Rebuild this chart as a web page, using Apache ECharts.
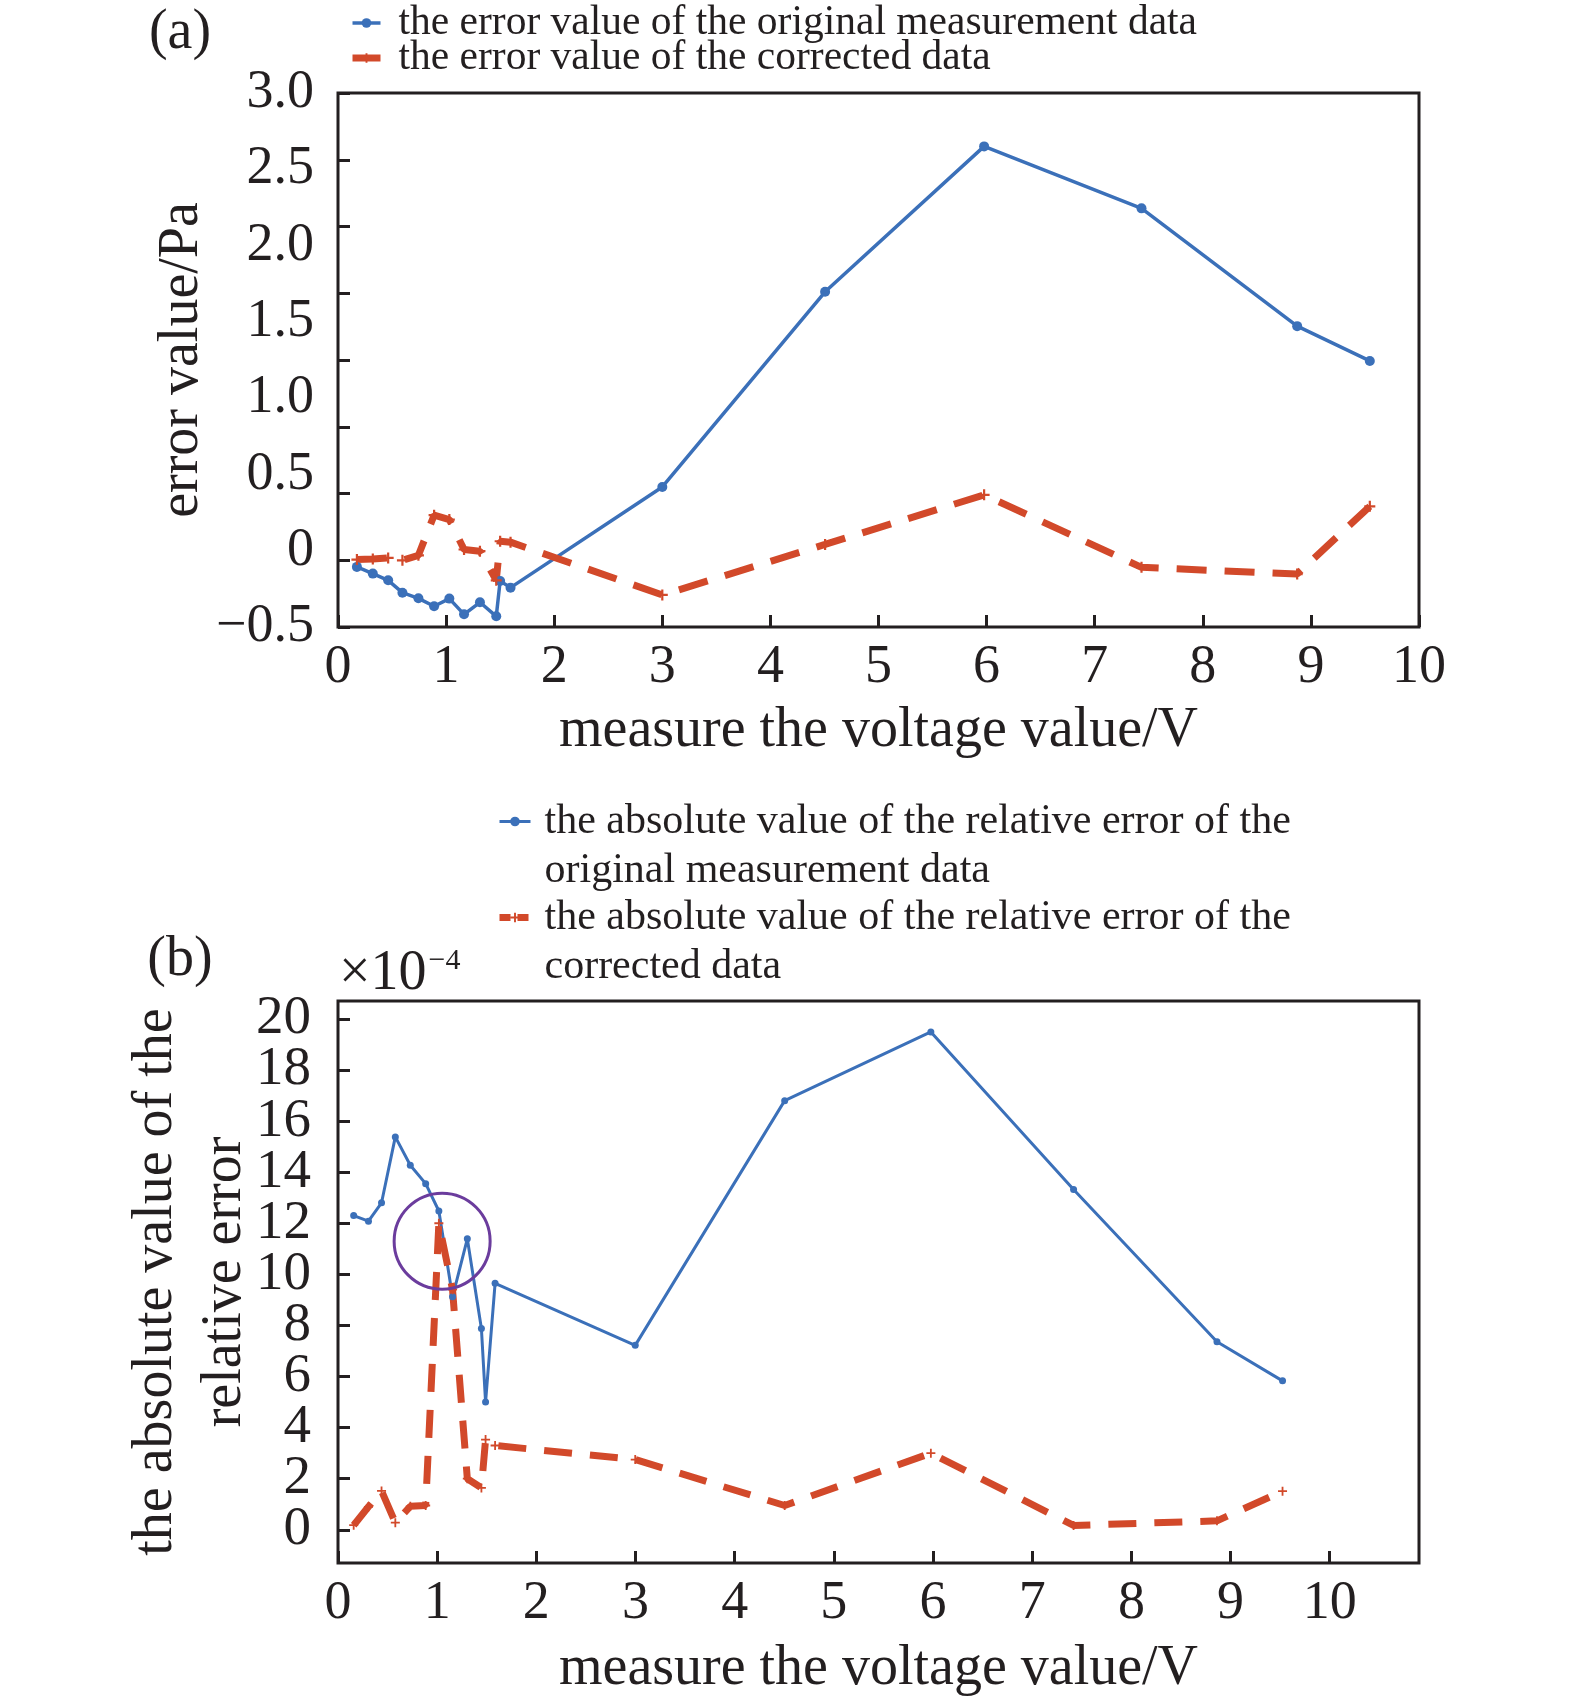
<!DOCTYPE html>
<html>
<head>
<meta charset="utf-8">
<script src="https://cdn.jsdelivr.net/npm/echarts@6/dist/echarts.min.js"></script>
<style>
html,body{margin:0;padding:0;background:#ffffff;}
#chart{width:1575px;height:1698px;}
</style>
</head>
<body>
<div id="chart"></div>
<script>
// ---------- data ----------
// panel (a): error value (Pa) vs measured voltage (V)
const voltageA = [0.175, 0.322, 0.464, 0.596, 0.744, 0.889, 1.030, 1.166, 1.313, 1.464, 1.500, 1.596, 3.0, 4.506, 5.977, 7.433, 8.873, 9.545];
const originalErrorA = [-0.106, -0.150, -0.194, -0.275, -0.312, -0.364, -0.314, -0.417, -0.338, -0.430, -0.198, -0.242, 0.418, 1.697, 2.650, 2.244, 1.472, 1.244];
const correctedErrorA = [-0.058, -0.054, -0.047, -0.063, -0.030, 0.233, 0.204, 0.008, -0.003, -0.194, 0.062, 0.056, -0.290, 0.041, 0.366, -0.109, -0.153, 0.291];

// panel (b): absolute value of the relative error (x10^-4) vs measured voltage (V)
const voltageB = [0.158, 0.307, 0.439, 0.578, 0.729, 0.884, 1.017, 1.155, 1.304, 1.446, 1.488, 1.584, 2.997, 4.504, 5.978, 7.417, 8.863, 9.524];
const originalRelErrB = [12.30, 12.08, 12.80, 15.38, 14.27, 13.55, 12.48, 9.12, 11.39, 7.88, 5.00, 9.65, 7.22, 16.80, 19.49, 13.32, 7.36, 5.83];
const correctedRelErrB = [0.18, 0.90, 1.52, 0.28, 0.92, 0.95, 12.00, 9.40, 2.00, 1.64, 3.53, 3.30, 2.75, 0.95, 3.00, 0.17, 0.35, 1.51];

// annotation circle in panel (b), data coordinates of its centre
const circleCenterB = [1.05, 11.3];

// series names
const nameA1 = 'the error value of the original measurement data';
const nameA2 = 'the error value of the corrected data';
const nameB1 = 'the absolute value of the relative error of the original measurement data';
const nameB2 = 'the absolute value of the relative error of the corrected data';

// ---------- styling ----------
const FONT = "'Liberation Serif','Times New Roman',serif";
const INK = '#231f20';
const BLUE = '#3b70b9';
const RED = '#d2492a';
const PURPLE = '#6b3c9d';
const CROSS = 'path://M4,0H6V4H10V6H6V10H4V6H0V4H4Z';

const pair = (xs, ys) => xs.map((x, i) => [x, ys[i]]);
const fmtA = v => v === 0 ? '0' : (v < 0 ? '\u2212' + Math.abs(v).toFixed(1) : v.toFixed(1));

const tickStyle = {inside: true, length: 12, lineStyle: {color: INK, width: 3}};
const labelStyle = size => ({color: INK, fontFamily: FONT, fontSize: size});
const noLine = {show: false, onZero: false};

const chart = echarts.init(document.getElementById('chart'), null, {renderer: 'canvas'});

const option = {
  animation: false,
  backgroundColor: '#ffffff',
  textStyle: {fontFamily: FONT, color: INK},
  grid: [
    {left: 338, right: 156, top: 93, height: 534, show: true, borderColor: INK, borderWidth: 3, backgroundColor: 'transparent'},
    {left: 338, right: 156, top: 1001, height: 566, show: true, borderColor: INK, borderWidth: 3, backgroundColor: 'transparent'}
  ],
  legend: [
    {
      data: [nameA1, nameA2], orient: 'vertical', left: 349, top: 2, padding: 0,
      itemWidth: 28, itemHeight: 12, itemGap: -7, selectedMode: false,
      lineStyle: {width: 'inherit'},
      textStyle: {fontSize: 41.5, fontFamily: FONT, color: INK, padding: [0, 0, 0, 13]}
    },
    {
      data: [nameB1, {name: nameB2, lineStyle: {type: [11, 7]}}],
      orient: 'vertical', left: 496, top: 748, padding: 0,
      itemWidth: 31, itemHeight: 12, itemGap: -51, selectedMode: false,
      lineStyle: {width: 'inherit'},
      formatter: n => '\n' + n.replace(/of the (original|corrected)/, 'of the\n$1'),
      textStyle: {fontSize: 42, lineHeight: 49, fontFamily: FONT, color: INK, padding: [0, 0, 0, 9]}
    }
  ],
  xAxis: [
    {
      gridIndex: 0, type: 'value', min: 0, max: 10, interval: 1,
      axisLine: noLine, axisTick: tickStyle, splitLine: {show: false},
      axisLabel: Object.assign(labelStyle(54), {margin: 14}),
      name: 'measure the voltage value/V', nameLocation: 'middle', nameGap: 76,
      nameTextStyle: labelStyle(56)
    },
    {
      gridIndex: 1, type: 'value', min: 0, max: 10.9, interval: 1,
      axisLine: noLine, axisTick: tickStyle, splitLine: {show: false},
      axisLabel: Object.assign(labelStyle(54), {margin: 14, showMaxLabel: false,
        formatter: v => Number.isInteger(v) ? String(v) : ''}),
      name: 'measure the voltage value/V', nameLocation: 'middle', nameGap: 78,
      nameTextStyle: labelStyle(56)
    }
  ],
  yAxis: [
    {
      gridIndex: 0, type: 'value', position: 'left', min: -0.5, max: 3, interval: 0.5,
      axisLine: noLine, axisTick: {show: false}, splitLine: {show: false},
      axisLabel: Object.assign(labelStyle(54), {margin: 24, formatter: fmtA}),
      name: 'error value/Pa', nameLocation: 'middle', nameGap: 128, nameMoveOverlap: false,
      nameTextStyle: Object.assign(labelStyle(56), {lineHeight: 56})
    },
    {
      // tick marks of the original figure (eight equal steps along the axis)
      gridIndex: 0, type: 'value', position: 'left', min: 0, max: 8, interval: 1,
      axisLine: noLine, axisTick: tickStyle, splitLine: {show: false},
      axisLabel: {show: false}
    },
    {
      gridIndex: 1, type: 'value', position: 'left', min: -1.3, max: 20.7, minInterval: 2, maxInterval: 2,
      axisLine: noLine, axisTick: tickStyle, splitLine: {show: false},
      axisLabel: Object.assign(labelStyle(55), {margin: 27, showMinLabel: false, showMaxLabel: false,
        formatter: v => (Number.isInteger(v) && v % 2 === 0) ? String(v) : ''}),
      name: 'the absolute value of the\nrelative error', nameLocation: 'middle', nameGap: 78, nameMoveOverlap: false,
      nameTextStyle: Object.assign(labelStyle(56), {lineHeight: 69})
    }
  ],
  series: [
    {
      name: nameA1, type: 'line', xAxisIndex: 0, yAxisIndex: 0,
      data: pair(voltageA, originalErrorA),
      symbol: 'circle', symbolSize: 10, showAllSymbol: true,
      lineStyle: {color: BLUE, width: 3.5}, itemStyle: {color: BLUE}
    },
    {
      name: nameA2, type: 'line', xAxisIndex: 0, yAxisIndex: 0,
      data: pair(voltageA, correctedErrorA),
      symbol: CROSS, symbolSize: 11, showAllSymbol: true,
      lineStyle: {color: RED, width: 7, type: [30, 18]}, itemStyle: {color: RED}
    },
    {
      name: nameB1, type: 'line', xAxisIndex: 1, yAxisIndex: 2,
      data: pair(voltageB, originalRelErrB),
      symbol: 'circle', symbolSize: 7, showAllSymbol: true,
      lineStyle: {color: BLUE, width: 3}, itemStyle: {color: BLUE}
    },
    {
      name: nameB2, type: 'line', xAxisIndex: 1, yAxisIndex: 2,
      data: pair(voltageB, correctedRelErrB),
      symbol: CROSS, symbolSize: 9, showAllSymbol: true,
      lineStyle: {color: RED, width: 7, type: [28, 18]}, itemStyle: {color: RED}
    }
  ]
};

chart.setOption(option);

const c = chart.convertToPixel({xAxisIndex: 1, yAxisIndex: 2}, circleCenterB);
chart.setOption({
  graphic: [
    {type: 'text', x: 180, y: 33, style: {text: '(a)', fontSize: 56, fontFamily: FONT, fill: INK, align: 'center', verticalAlign: 'middle'}},
    {type: 'text', x: 180, y: 960, style: {text: '(b)', fontSize: 56, fontFamily: FONT, fill: INK, align: 'center', verticalAlign: 'middle'}},
    {type: 'text', x: 339, y: 974, style: {
      text: '{m|\u00d710}{s|\u22124}', align: 'left', verticalAlign: 'middle', fill: INK,
      rich: {
        m: {fontSize: 56, fontFamily: FONT, fill: INK, lineHeight: 56, verticalAlign: 'bottom'},
        s: {fontSize: 30, fontFamily: FONT, fill: INK, verticalAlign: 'top', padding: [0, 0, 0, 2]}
      }}},
    {type: 'circle', z: 100, shape: {cx: c[0], cy: c[1], r: 48}, style: {fill: 'none', stroke: PURPLE, lineWidth: 3}}
  ]
});
</script>
</body>
</html>
